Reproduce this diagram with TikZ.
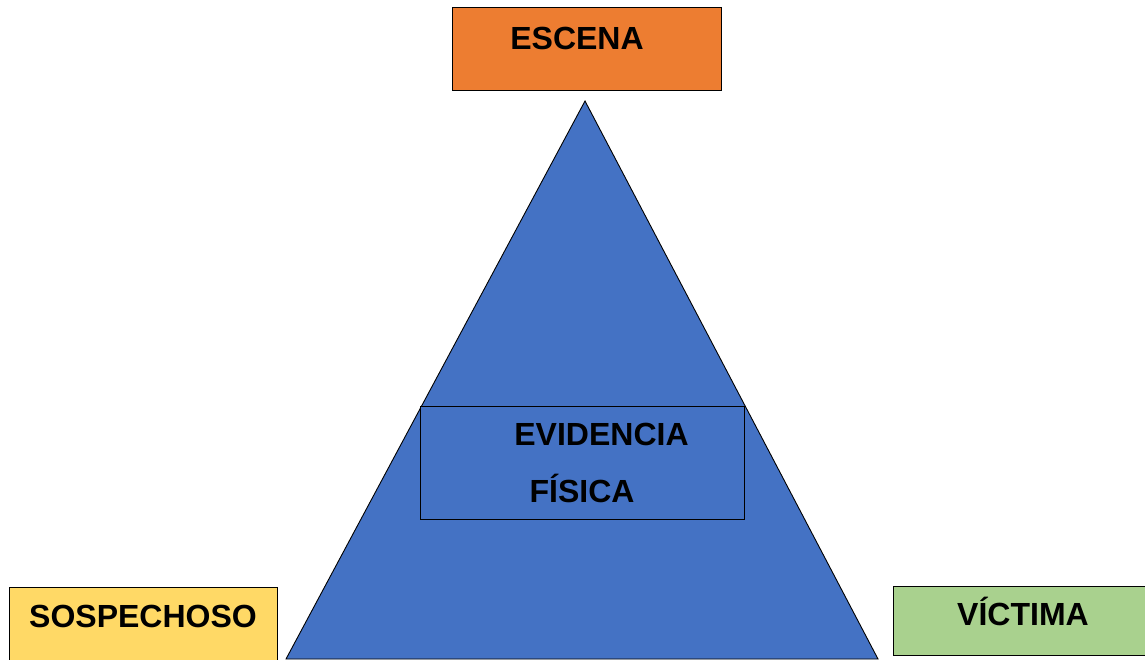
\documentclass[tikz,border=0pt]{standalone}
\usepackage{fontspec}
\setmainfont{Liberation Sans}
\definecolor{escenaC}{HTML}{ED7D31}
\definecolor{sospC}{HTML}{FFD966}
\definecolor{victC}{HTML}{A9D18E}
\definecolor{triC}{HTML}{4472C4}
\begin{document}
\begin{tikzpicture}[x=1pt,y=-1pt,
                    caja/.style={draw,line width=0.9pt,inner sep=0pt},
                    rotulo/.style={font=\fontsize{32}{36}\selectfont\bfseries,inner sep=0pt,anchor=base}]
      \useasboundingbox (0,0) rectangle (1145,659);

      % triangulo
      \coordinate (cima) at (585,101);
      \coordinate (izq) at (286,659);
      \coordinate (der) at (878,659);
      \draw[fill=triC,line width=0.9pt,line join=miter] (cima) -- (der) -- (izq) -- cycle;

      \node[caja,fill=escenaC,minimum width=269pt,minimum height=83pt] (escena) at (586.5,48.5) {};
      \node[caja,fill=sospC,minimum width=268pt,minimum height=80pt] (sosp) at (143,627) {};
      \node[caja,fill=victC,minimum width=252pt,minimum height=69pt] (vict) at (1019,620.5) {};
      \node[caja,fill=triC,minimum width=324pt,minimum height=113pt] (evid) at (582,462.5) {};

      \node[rotulo] (escenaT) at (577,49) {ESCENA};
      \node[rotulo] (sospT) at (143,627) {SOSPECHOSO};
      \node[rotulo] (victT) at (1023,625) {VÍCTIMA};
      \node[rotulo] (evidT1) at (601.5,445) {EVIDENCIA};
      \node[rotulo] (evidT2) at (582,502) {FÍSICA};
    \end{tikzpicture}
\end{document}
